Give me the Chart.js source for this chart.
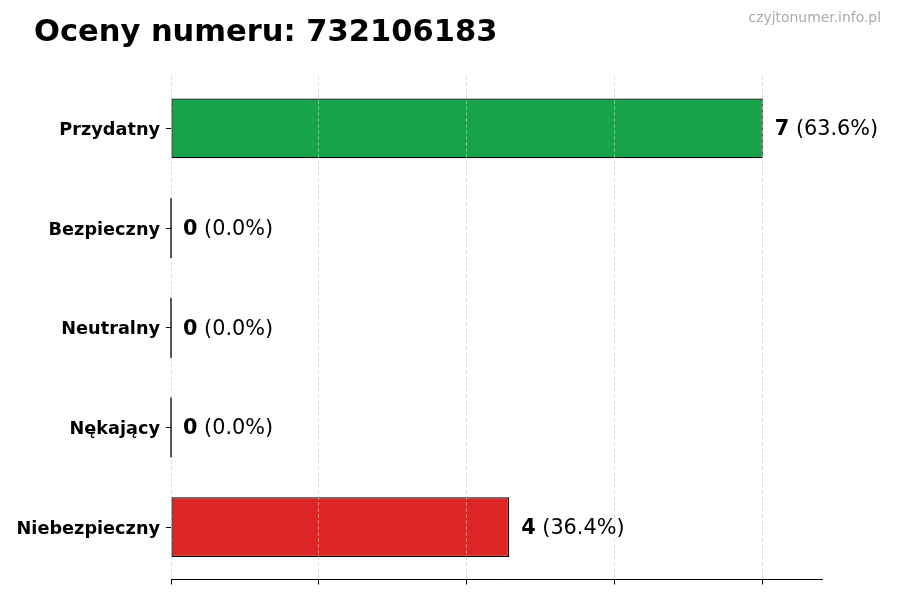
<!DOCTYPE html>
<html>
<head>
<meta charset="utf-8">
<script src="https://cdn.jsdelivr.net/npm/chart.js@4/dist/chart.umd.min.js"></script>
<style>
  html, body { margin: 0; padding: 0; background: #fff; }
  #wrap { width: 900px; height: 600px; }
</style>
</head>
<body>
<div id="wrap"><canvas id="chart" width="900" height="600"></canvas></div>
<script>
const categories = ['Przydatny', 'Bezpieczny', 'Neutralny', 'Nękający', 'Niebezpieczny'];
const counts = [7, 0, 0, 0, 4];
const barColors = ['#16a34a', '#16a34a', '#6b7280', '#dc2626', '#dc2626'];
const xTicks = [0, 1.75, 3.5, 5.25, 7];
const titleText = 'Oceny numeru: 732106183';
const watermark = 'czyjtonumer.info.pl';

const total = counts.reduce((a, b) => a + b, 0);
const FONT = '"DejaVu Sans", sans-serif';
const Y_MARGIN = 0.525; // matplotlib-like margin around the first/last bar, in categories

// title + watermark + value labels + outlines for empty bars
const extras = {
  id: 'extras',
  afterDraw(chart) {
    const ctx = chart.ctx;
    ctx.save();
    ctx.fillStyle = '#000';
    ctx.textBaseline = 'alphabetic';
    ctx.textAlign = 'left';
    ctx.font = 'bold 30.5px ' + FONT;
    ctx.fillText(titleText, 34, 41);

    ctx.fillStyle = '#aaaaaa';
    ctx.textAlign = 'right';
    ctx.font = '13.9px ' + FONT;
    ctx.fillText(watermark, 881, 22);

    const meta = chart.getDatasetMeta(0);
    meta.data.forEach((bar, i) => {
      const p = bar.getProps(['x', 'y', 'base', 'height'], true);
      if (counts[i] === 0) {
        ctx.strokeStyle = '#000';
        ctx.lineWidth = 1.3;
        ctx.beginPath();
        ctx.moveTo(p.x, p.y - p.height / 2);
        ctx.lineTo(p.x, p.y + p.height / 2);
        ctx.stroke();
      }
      const pct = ' (' + (total ? counts[i] / total * 100 : 0).toFixed(1) + '%)';
      ctx.textAlign = 'left';
      ctx.textBaseline = 'middle';
      ctx.fillStyle = '#000';
      ctx.font = 'bold 20.8px ' + FONT;
      const x0 = p.x + 12;
      const ty = p.y + 1.5;
      ctx.fillText(String(counts[i]), x0, ty);
      const w = ctx.measureText(String(counts[i])).width;
      ctx.font = '20.8px ' + FONT;
      ctx.fillText(pct, x0 + w, ty);
    });
    ctx.restore();
  }
};

new Chart(document.getElementById('chart'), {
  type: 'bar',
  data: {
    labels: categories,
    datasets: [{
      data: counts,
      backgroundColor: barColors,
      borderColor: '#000',
      borderWidth: 1.3,
      borderSkipped: false,
      barPercentage: 0.6,
      categoryPercentage: 1
    }]
  },
  options: {
    indexAxis: 'y',
    responsive: false,
    animation: false,
    layout: { padding: { top: 76, right: 78, bottom: 15.5, left: 0 } },
    plugins: { legend: { display: false }, tooltip: { enabled: false } },
    scales: {
      x: {
        min: 0,
        max: 7.7,
        afterBuildTicks: (s) => { s.ticks = xTicks.map(v => ({ value: v })); },
        ticks: { display: false },
        grid: {
          z: 1,
          color: 'rgba(200,200,200,0.75)',
          lineWidth: 0.8,
          drawTicks: true,
          tickLength: 5,
          tickColor: '#000',
          tickBorderDash: [],
          tickWidth: 1
        },
        border: { display: true, color: '#000', width: 1, dash: [4, 2], z: 2 }
      },
      y: {
        afterFit: (s) => { s.width = 171; },
        afterBuildTicks: (s) => {
          s._startValue = -Y_MARGIN;
          s._valueRange = categories.length - 1 + 2 * Y_MARGIN;
        },
        ticks: {
          color: '#000',
          padding: 6,
          labelOffset: 2,
          font: { family: FONT, size: 17.7, weight: 'bold' }
        },
        grid: {
          offset: false,
          drawOnChartArea: false,
          drawTicks: true,
          tickLength: 5,
          color: '#000'
        },
        border: { display: false }
      }
    }
  },
  plugins: [extras]
});
</script>
</body>
</html>
